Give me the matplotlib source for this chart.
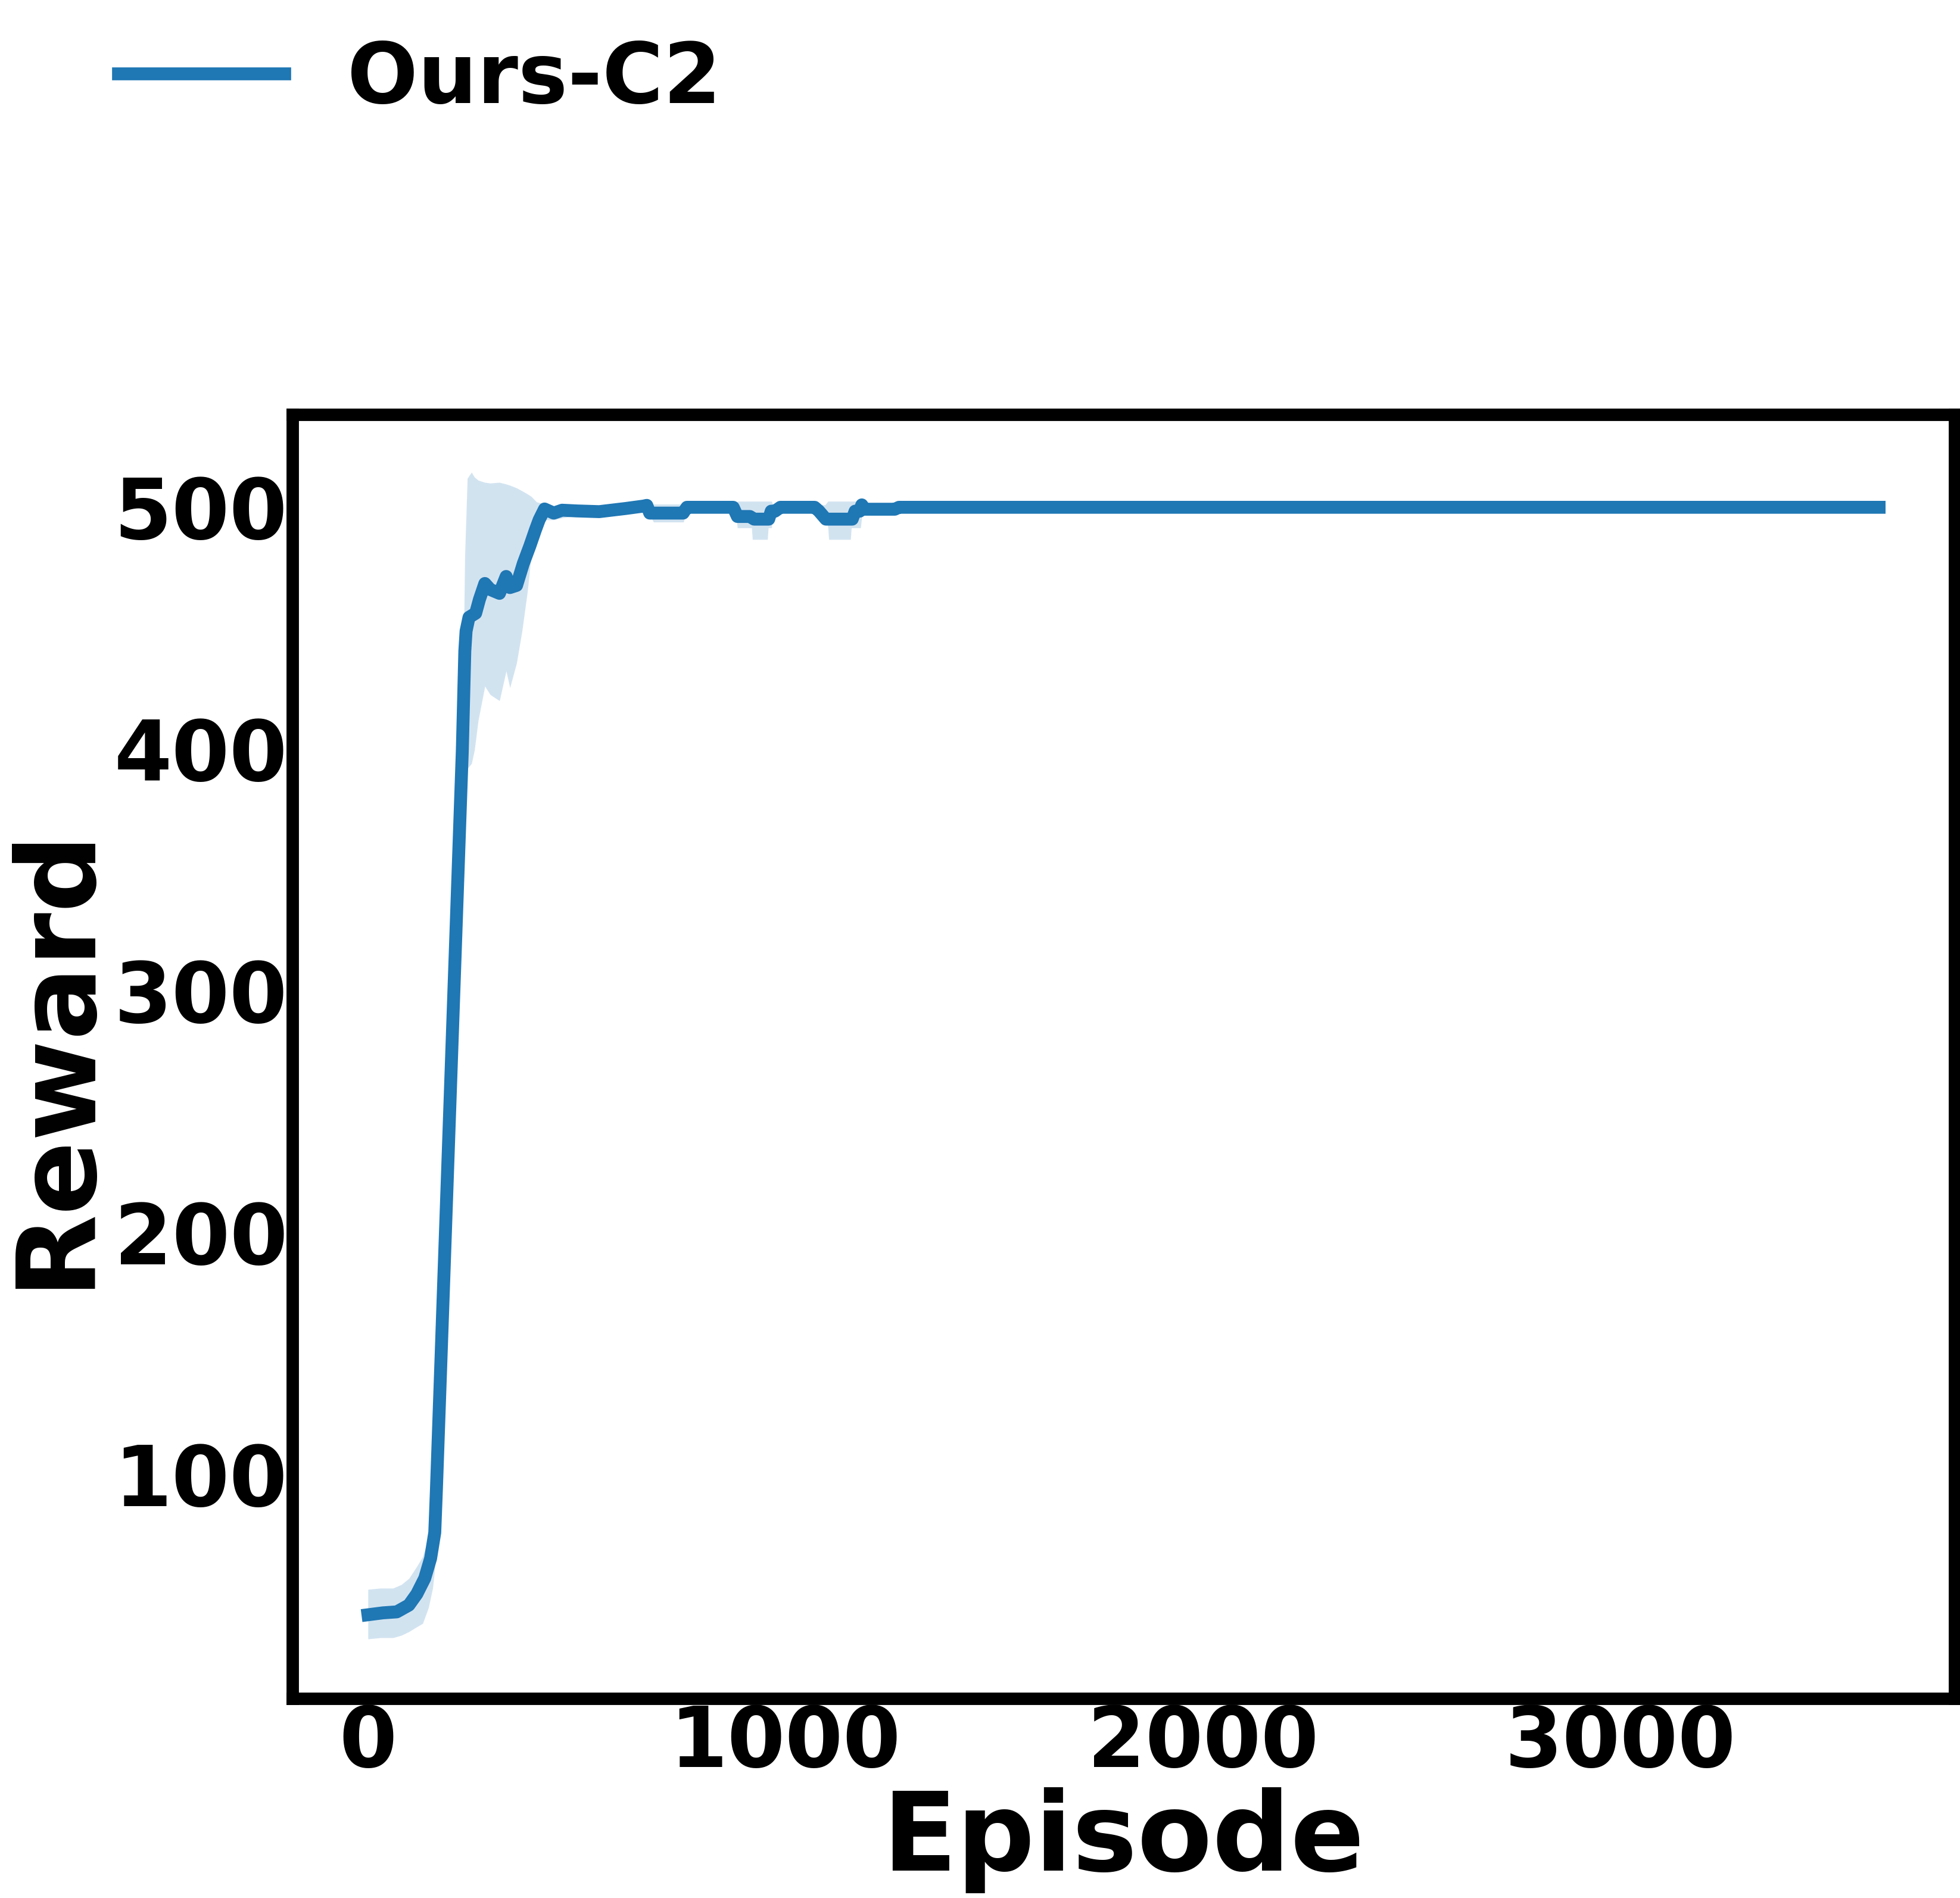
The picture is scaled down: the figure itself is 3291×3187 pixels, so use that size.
import matplotlib
matplotlib.use('Agg')
import matplotlib.pyplot as plt

# ---- data ----
line_ep = [0, 36, 69, 98, 117, 136, 150, 160, 164, 169, 174, 226, 232, 235, 242,
           258, 267, 280, 293, 315, 331, 340, 356, 372, 388, 401, 410, 423, 445,
           465, 500, 554, 617, 660, 668, 675, 755, 764, 875, 885, 915, 925, 960,
           966, 975, 988, 1070, 1080, 1097, 1160, 1167, 1178, 1183, 1190, 1262,
           1272, 3620]
line_val = [42, 42.8, 43.2, 46.0, 50.6, 57.1, 65.3, 76.0, 94.0, 118.7, 143.3,
            399.5, 440.6, 448.8, 454.5, 456.2, 461.9, 468.5, 466.0, 464.4, 471.4,
            466.8, 467.7, 476.7, 484.1, 490.6, 494.8, 499.3, 497.6, 498.8, 498.5,
            498.2, 499.5, 500.5, 500.8, 497.6, 497.6, 500, 500, 496.2, 496.2,
            495.1, 495.1, 498.4, 498.4, 500, 500, 498.5, 495.1, 495.1, 498.4,
            498.4, 501.0, 499.2, 499.2, 500, 500]

band_ep = [0, 30, 60, 80, 98, 117, 131, 145, 155, 160, 165, 174, 200, 226, 232,
           238, 248, 255, 264, 280, 293, 315, 331, 340, 356, 369, 382, 391, 404,
           420, 445, 465, 500, 554, 617, 660, 675, 684, 756, 762, 880, 885, 919,
           921, 957, 959, 967, 970, 1095, 1102, 1104, 1156, 1158, 1180, 1185, 3620]
band_lo = [32, 32.5, 32.5, 33.5, 35, 37, 38.4, 45, 53, 61, 80, 128, 255, 394,
           393, 392, 394, 399.5, 411.8, 426, 422.5, 420, 432.3, 425.4, 435.6,
           448.8, 465.2, 480, 488.2, 494.8, 494.8, 495.6, 496.5, 497, 498.5,
           499.5, 497, 493.9, 493.9, 499, 499, 491.5, 491.5, 486.7, 486.7, 491.5,
           491.5, 499, 499, 491.5, 486.7, 486.7, 491.5, 491.5, 499, 499]
band_hi = [52.5, 53, 53, 54.5, 57, 62, 66, 74, 83, 92, 110, 158, 285, 405, 480,
           512, 514.5, 512.5, 511.2, 510.3, 510, 510.3, 509.6, 509.1, 508, 506.8,
           505.5, 504.5, 502.2, 501.5, 500.4, 501.6, 500.5, 499.8, 500.5, 501.5,
           501.3, 501.3, 501.3, 501, 501, 502.5, 502.5, 502.5, 502.5, 502.5,
           502.5, 501, 501, 502.5, 502.5, 502.5, 502.5, 502.5, 501, 500.5]

x_ticks = [0, 1000, 2000, 3000]
y_ticks = [100, 200, 300, 400, 500]
series_label = 'Ours-C2'
x_label = 'Episode'
y_label = 'Reward'

# ---- figure ----
plt.rcParams['font.family'] = ['DejaVu Sans']
plt.rcParams['font.weight'] = 'bold'

W, H, DPI = 3291, 3187, 300
fig = plt.figure(figsize=(W / DPI, H / DPI), dpi=DPI)
ax = fig.add_axes([491 / W, 1 - 2851.5 / H, 2791 / W, 2156 / H])

ax.fill_between(band_ep, band_lo, band_hi, color='C0', alpha=0.2, linewidth=0)
line, = ax.plot(line_ep, line_val, color='C0', lw=5.2, label=series_label)

ax.set_xlim(-181, 3801)
ax.set_ylim(7.5, 538.5)
ax.set_xticks(x_ticks)
ax.set_yticks(y_ticks)
ax.tick_params(axis='both', length=0, pad=2, labelsize=33.5)
for lab in ax.get_xticklabels() + ax.get_yticklabels():
    lab.set_fontweight('bold')
for s in ax.spines.values():
    s.set_linewidth(5)
    s.set_color('black')

ax.set_xlabel(x_label, fontsize=44, fontweight='bold')
ax.xaxis.set_label_coords(0.5, -0.0693)
ax.set_ylabel(y_label, fontsize=44, fontweight='bold')
ax.yaxis.set_label_coords(-0.1105, 0.500)

fig.legend(handles=[line], loc='center left',
           bbox_to_anchor=(199 / W, 1 - 134 / H),
           frameon=False, prop={'size': 33.5, 'weight': 'bold'},
           handlelength=2.0, handletextpad=0.75, borderpad=0, borderaxespad=0)

fig.savefig('out.png', dpi=DPI)
